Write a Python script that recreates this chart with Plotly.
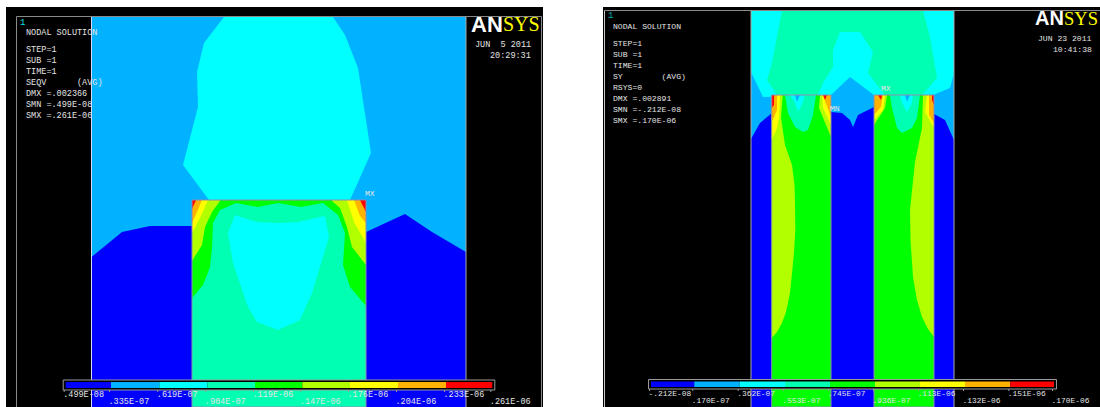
import plotly.graph_objects as go

# ANSYS contour levels (standard 9-band map)
BLUE, SKY, CYAN, AQUA, GREEN, LIME, YELLOW, ORANGE, RED = (
    "#0000FF", "#00B2FF", "#00FFFF", "#00FFB2", "#00FF00",
    "#B2FF00", "#FFFF00", "#FFB200", "#FF0000")
BAND_COLORS = [BLUE, SKY, CYAN, AQUA, GREEN, LIME, YELLOW, ORANGE, RED]

# ---- left plot (SEQV): contour outlines
L_VIEW = [(91.5, 17), (466, 17), (466, 407), (91.5, 407)]
L_CYAN = [(224, 17), (204, 43), (197, 72), (198, 107), (183, 165), (209, 200), (350, 200),
          (371, 153), (358, 68), (345, 35), (333, 17)]
L_BLUE = [(91.5, 257), (122, 232), (150, 226), (192, 226), (192, 407), (366, 407), (366, 232), (405, 214),
          (432, 232), (466, 252), (466, 407), (91.5, 407)]
L_BLOCK = [(192, 200), (366, 200), (366, 407), (192, 407)]
L_GREEN = [(192, 298), (203, 285), (210, 267), (212, 248), (213, 223), (220, 210), (236, 203), (258, 207),
           (278, 203), (301, 207), (323, 203), (338, 215), (345, 233), (343, 265), (350, 287), (366, 306),
           (366, 200), (192, 200)]
L_LIME = [(192, 261), (202, 245), (205, 227), (212, 212), (220, 201), (332, 201), (340, 208), (347, 227),
          (352, 247), (366, 265), (366, 200), (192, 200)]
L_LIME_CUT = [(220, 201), (332, 201), (332, 200), (220, 200)]
L_YELLOW_A = [(192, 200), (208, 200), (200, 218), (192, 233)]
L_ORANGE_A = [(192, 200), (202, 200), (197, 212), (192, 223)]
L_RED_A = [(192, 200), (196, 200), (192, 209)]
L_YELLOW_B = [(366, 200), (347, 200), (354, 222), (366, 243)]
L_ORANGE_B = [(366, 200), (354, 200), (360, 216), (366, 223)]
L_RED_B = [(366, 200), (360, 200), (366, 212)]
L_INNER = [(235, 215), (228, 233), (233, 263), (248, 307), (257, 322), (278, 330), (300, 320), (312, 293),
           (329, 237), (325, 216), (298, 222), (278, 223), (257, 222)]

# ---- right plot (SY)
R_VIEW = [(751, 10.5), (954, 10.5), (954, 407), (751, 407)]
R_CYAN = [(751, 10.5), (954, 10.5), (954, 73), (950, 88), (933, 95), (874, 95), (850, 77), (831, 95),
          (763, 97), (751, 72)]
R_AQUA = [(782, 10.5), (777, 37), (772, 63), (767, 80), (777, 95), (818, 95), (823, 83), (833, 67), (833, 50),
          (840, 32), (860, 32), (873, 52), (868, 73), (885, 95), (922, 95), (937, 78), (930, 37), (923, 10.5)]
R_BLUE = [(751, 139), (760, 123), (772, 113), (831, 112), (842, 113), (850, 120), (853, 127), (858, 115),
          (874, 107), (934, 114), (945, 120), (954, 140), (954, 407), (751, 407)]
R_COL1 = [(771.7, 95), (831, 95), (831, 407), (771.7, 407)]
R_COL2 = [(874, 95), (934, 95), (934, 407), (874, 407)]
R1_LIME_A = [(771.7, 95), (782.7, 95), (781, 118), (785, 145), (792, 165), (794.5, 185), (795, 203), (795.3, 230),
             (794, 253), (792, 275), (790, 293), (786, 312), (782, 323), (777, 332), (771.7, 338)]
R1_YELLOW_A = [(771.7, 95), (780, 95), (779, 118), (777, 128), (771.7, 140)]
R1_ORANGE_A = [(771.7, 95), (777, 95), (777, 110), (771.7, 122)]
R1_RED_A = [(771.7, 95), (774, 95), (774, 105), (771.7, 108)]
R1_LIME_B = [(820, 95), (819, 108), (831, 137), (831, 95)]
R1_YELLOW_B = [(822, 95), (823, 108), (831, 125), (831, 95)]
R1_ORANGE_B = [(823, 95), (827, 105), (831, 117), (831, 95)]
R1_RED_B = [(823, 95), (827, 95), (825, 100)]
R1_AQUA = [(785, 95), (788, 113), (795, 127), (803, 132), (808, 130), (813, 115), (816, 95)]
R1_CYAN = [(790, 95), (795, 103), (798, 112), (803, 102), (805, 95)]
R1_SKY = [(795, 95), (797, 102), (800, 95)]
R2_LIME_A = [(874, 95), (887, 95), (885, 108), (874, 125)]
R2_YELLOW_A = [(874, 95), (885, 95), (883, 110), (874, 120)]
R2_ORANGE_A = [(874, 95), (883, 95), (881, 107), (874, 115)]
R2_RED_A = [(878, 95), (882, 95), (881, 100)]
R2_AQUA = [(890, 95), (892, 108), (897, 128), (902, 133), (912, 128), (917, 118), (920, 95)]
R2_CYAN = [(900, 95), (902, 103), (907, 112), (912, 103), (913, 95)]
R2_SKY = [(905, 95), (907, 102), (910, 95)]
R2_LIME_B = [(923, 95), (922, 128), (915, 162), (912, 190), (910, 210), (910.5, 240), (913, 277), (917, 300),
             (922, 317), (928, 329), (934, 337), (934, 95)]
R2_YELLOW_B = [(927, 95), (925, 112), (934, 128), (934, 95)]
R2_ORANGE_B = [(929, 95), (929, 115), (934, 123), (934, 95)]
R2_RED_B = [(932, 95), (932, 100), (934, 105), (934, 95)]

# ---- legends
L_EDGES = [65.7, 111, 159.3, 207.3, 255, 302.3, 350, 398, 446, 492.3]
L_LABELS = [".499E-08", ".335E-07", ".619E-07", ".904E-07", ".119E-06",
            ".147E-06", ".176E-06", ".204E-06", ".233E-06", ".261E-06"]
R_EDGES = [651, 694.3, 739.7, 785, 830, 875, 920, 965, 1010.3, 1054]
R_LABELS = ["-.212E-08", ".170E-07", ".362E-07", ".553E-07", ".745E-07",
            ".936E-07", ".113E-06", ".132E-06", ".151E-06", ".170E-06"]

# ---- header texts
L_HEAD = [("NODAL SOLUTION", 33), ("STEP=1", 50), ("SUB =1", 61), ("TIME=1", 72),
          ("SEQV      (AVG)", 83), ("DMX =.002366", 94)]
L_HEAD_CLIPPED = [("SMN =.499E-08", 105), ("SMX =.261E-06", 116)]
R_HEAD = [("NODAL SOLUTION", 27), ("STEP=1", 44), ("SUB =1", 55), ("TIME=1", 66),
          ("SY        (AVG)", 77), ("RSYS=0", 88), ("DMX =.002891", 99),
          ("SMN =-.212E-08", 110), ("SMX =.170E-06", 121)]

MONO = "Liberation Mono"
TXT = "#e4e4e4"
FRAME = "#8a8a8a"

fig = go.Figure()


def poly(pts, color, line=None):
    xs = [p[0] for p in pts] + [pts[0][0]]
    ys = [p[1] for p in pts] + [pts[0][1]]
    fig.add_trace(go.Scatter(x=xs, y=ys, mode="lines", fill="toself", fillcolor=color,
                             line=dict(color=line or color, width=1 if line else 0),
                             hoverinfo="skip", showlegend=False))


def box(x0, x1, y0, y1, color, line=None):
    poly([(x0, y0), (x1, y0), (x1, y1), (x0, y1)], color, line)


def seg(x0, y0, x1, y1, color=FRAME, width=1):
    fig.add_trace(go.Scatter(x=[x0, x1], y=[y0, y1], mode="lines", line=dict(color=color, width=width),
                             hoverinfo="skip", showlegend=False))


def text(xs, ys, strs, size=8.5, color=TXT, family=MONO, pos="middle right", weight="normal"):
    fig.add_trace(go.Scatter(x=xs, y=ys, text=strs, mode="text", textposition=pos,
                             textfont=dict(family=family, size=size, color=color, weight=weight),
                             hoverinfo="skip", showlegend=False))


def legend(edges, labels, y0, y1, y_hi, y_lo, size):
    box(edges[0] - 2.5, edges[-1] + 2.5, y0, y1, "#000000", "#9a9a9a")
    for i in range(9):
        box(edges[i], edges[i + 1], y0 + 2, y1 - 2, BAND_COLORS[i])
    for i, lab in enumerate(labels):
        seg(edges[i] - 1.5, y1, edges[i] - 1.5, y1 + 2, "#9a9a9a")
        text([edges[i] - 2.5], [y_lo if i % 2 else y_hi], [lab], size=size)


# panels
box(6, 543, 7, 407, "#000000")
box(603, 1100, 7, 407, "#000000")

# left plot
text([26, 26], [p[1] for p in L_HEAD_CLIPPED], [p[0] for p in L_HEAD_CLIPPED])
poly(L_VIEW, SKY)
poly(L_BLUE, BLUE)
poly(L_CYAN, CYAN)
poly(L_BLOCK, AQUA)
poly(L_GREEN, GREEN)
poly(L_LIME, LIME)
poly(L_YELLOW_A, YELLOW); poly(L_ORANGE_A, ORANGE); poly(L_RED_A, RED)
poly(L_YELLOW_B, YELLOW); poly(L_ORANGE_B, ORANGE); poly(L_RED_B, RED)
poly(L_LIME_CUT, GREEN)
poly(L_INNER, CYAN)
poly(L_BLOCK, "rgba(0,0,0,0)", "#8c8cb4")
seg(16.5, 16.5, 541.5, 16.5); seg(16.5, 16.5, 16.5, 407); seg(541.5, 16.5, 541.5, 407)
seg(91.5, 17, 91.5, 407, "#d8d8ff"); seg(466, 17, 466, 407, "#a8a8a8")

# right plot
poly(R_VIEW, SKY)
poly(R_CYAN, CYAN)
poly(R_AQUA, AQUA)
poly(R_BLUE, BLUE)
poly(R_COL1, GREEN)
poly(R_COL2, GREEN)
for pts, col in [(R1_LIME_A, LIME), (R1_YELLOW_A, YELLOW), (R1_ORANGE_A, ORANGE), (R1_RED_A, RED),
                 (R1_LIME_B, LIME), (R1_YELLOW_B, YELLOW), (R1_ORANGE_B, ORANGE), (R1_RED_B, RED),
                 (R1_AQUA, AQUA), (R1_CYAN, CYAN), (R1_SKY, SKY),
                 (R2_LIME_A, LIME), (R2_YELLOW_A, YELLOW), (R2_ORANGE_A, ORANGE), (R2_RED_A, RED),
                 (R2_LIME_B, LIME), (R2_YELLOW_B, YELLOW), (R2_ORANGE_B, ORANGE), (R2_RED_B, RED),
                 (R2_AQUA, AQUA), (R2_CYAN, CYAN), (R2_SKY, SKY)]:
    poly(pts, col)
poly(R_COL1, "rgba(0,0,0,0)", "#8c8cb4")
poly(R_COL2, "rgba(0,0,0,0)", "#8c8cb4")
seg(604.5, 10.5, 1100, 10.5); seg(604.5, 10.5, 604.5, 407, "#c8c8c8")
seg(751, 10.5, 751, 407, "#a8a8a8"); seg(954, 10.5, 954, 407, "#a8a8a8")

# legends
legend(L_EDGES, L_LABELS, 380, 390, 395, 401.5, 8.5)
legend(R_EDGES, R_LABELS, 379.5, 389, 394, 401.5, 7.9)

# header texts
text([20], [23], ["1"], color="#00e0e0", size=9)
text([26] * len(L_HEAD), [p[1] for p in L_HEAD], [p[0] for p in L_HEAD])
text([608], [16], ["1"], color="#00b0b0", size=9)
text([613] * len(R_HEAD), [p[1] for p in R_HEAD], [p[0] for p in R_HEAD], size=8.1)
text([365, 881, 830], [194, 89, 109], ["MX", "MX", "MN"], size=8, pos="middle right")
text([475, 490], [45, 56], ["JUN  5 2011", "20:29:31"], size=8.5)
text([1038, 1053], [39, 50], ["JUN 23 2011", "10:41:38"], size=8.1)

# logos
text([471], [26], ["AN"], size=22, color="#ffffff", family="Liberation Sans", weight="bold")
text([503], [26], ["SYS"], size=20, color="#ffff00", family="Liberation Serif")
text([1035], [20], ["AN"], size=20, color="#ffffff", family="Liberation Sans", weight="bold")
text([1064], [20], ["SYS"], size=18.5, color="#ffff00", family="Liberation Serif")

fig.update_layout(
    width=1100, height=407, margin=dict(l=0, r=0, t=0, b=0),
    paper_bgcolor="#ffffff", plot_bgcolor="#ffffff", showlegend=False,
    xaxis=dict(range=[0, 1100], visible=False, fixedrange=True),
    yaxis=dict(range=[407, 0], visible=False, fixedrange=True),
)
fig.write_html("out.html", config={"displayModeBar": False},
               post_script="document.body.style.margin='0';document.documentElement.style.overflow='hidden';")
